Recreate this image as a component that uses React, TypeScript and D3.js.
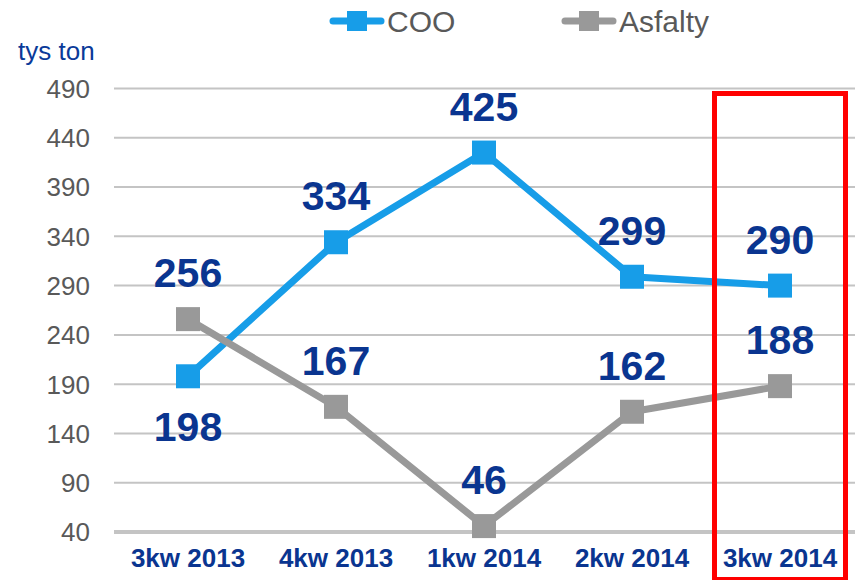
import React from "react";
import * as d3 from "d3";

const categories = ["3kw 2013", "4kw 2013", "1kw 2014", "2kw 2014", "3kw 2014"];
const cooValues = [198, 334, 425, 299, 290];
const asfaltyValues = [256, 167, 46, 162, 188];
const yTicks = [40, 90, 140, 190, 240, 290, 340, 390, 440, 490];
const seriesNames = ["COO", "Asfalty"];
const cooLabelBelow = [true, false, false, false, false];

const W = 855;
const H = 580;
const FONT = "'Liberation Sans', Arial, sans-serif";
const NAVY = "#0A3590";
const BLUE = "#179DE8";
const GRAY = "#999999";

export default function App() {
  const x = d3.scaleBand<string>().domain(categories).range([114, 854]);
  const y = d3.scaleLinear().domain([40, 490]).range([532, 88.5]);
  const cx = (c: string) => (x(c) as number) + x.bandwidth() / 2;
  const line = d3
    .line<number>()
    .x((_, i) => cx(categories[i]))
    .y((d) => y(d));

  const series = [
    { name: seriesNames[0], values: cooValues, color: BLUE },
    { name: seriesNames[1], values: asfaltyValues, color: GRAY },
  ];
  const ms = 24;
  const last = categories[categories.length - 1];

  return (
    <svg
      width={W}
      height={H}
      style={{ position: "absolute", left: 0, top: 0, background: "#fff" }}
      fontFamily={FONT}
    >
      {yTicks.map((t) => (
        <g key={t}>
          <line
            x1={114}
            x2={W}
            y1={y(t)}
            y2={y(t)}
            stroke="#c4c4c4"
            strokeWidth={t === 40 ? 4 : 2}
          />
          <text x={90} y={y(t)} dy="0.36em" textAnchor="end" fontSize={26} fill="#595959">
            {t}
          </text>
        </g>
      ))}
      <text x={18} y={60} fontSize={26} fill="#0A3A99">
        tys ton
      </text>
      {categories.map((c) => (
        <text key={c} x={cx(c)} y={567} textAnchor="middle" fontSize={26} fontWeight="bold" fill={NAVY}>
          {c}
        </text>
      ))}
      {series.map((s) => (
        <g key={s.name}>
          <path d={line(s.values) || ""} fill="none" stroke={s.color} strokeWidth={7} strokeLinejoin="round" />
          {s.values.map((v, i) => (
            <rect
              key={i}
              x={cx(categories[i]) - ms / 2}
              y={y(v) - ms / 2}
              width={ms}
              height={ms}
              fill={s.color}
            />
          ))}
        </g>
      ))}
      {series.map((s, si) =>
        s.values.map((v, i) => {
          const below = si === 0 && cooLabelBelow[i];
          return (
            <text
              key={s.name + i}
              x={cx(categories[i])}
              y={below ? y(v) + 65 : y(v) - 32}
              textAnchor="middle"
              fontSize={41}
              fontWeight="bold"
              fill={NAVY}
            >
              {v}
            </text>
          );
        })
      )}
      <rect
        x={(x(last) as number) + x.bandwidth() / 2 - 65.5}
        y={93.5}
        width={131}
        height={486}
        fill="none"
        stroke="#ff0000"
        strokeWidth={5}
      />
      {series.map((s, i) => {
        const lx = i === 0 ? 330 : 562;
        return (
          <g key={"leg" + s.name}>
            <line x1={lx + 3} x2={lx + 51} y1={21} y2={21} stroke={s.color} strokeWidth={7} strokeLinecap="round" />
            <rect x={lx + 17} y={11} width={20} height={20} fill={s.color} />
            <text x={lx + 57} y={32} fontSize={30} fill="#595959">
              {s.name}
            </text>
          </g>
        );
      })}
    </svg>
  );
}
